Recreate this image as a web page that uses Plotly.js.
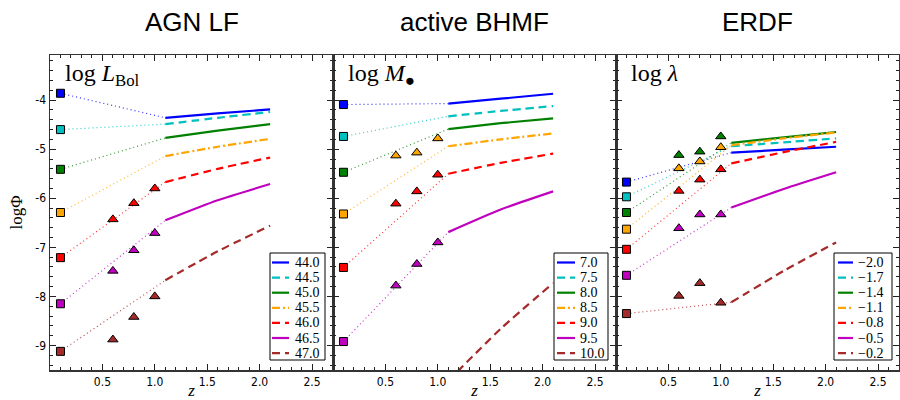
<!DOCTYPE html>
<html>
<head>
<meta charset="utf-8">
<script src="https://cdn.plot.ly/plotly-3.0.1.min.js"></script>
<style>html,body{margin:0;padding:0;background:#fff;}#chart{width:900px;height:400px;}</style>
</head>
<body>
<div id="chart"></div>
<script>
// ---------------- data ----------------
const zSquare = 0.1;
const zTri = [0.6, 0.8, 1.0];
const zLine = [1.1, 1.6, 2.1];

const panelTitles = ['AGN LF', 'active BHMF', 'ERDF'];
const panelLabels = ['log <i>L</i><sub>Bol</sub>', 'log <i>M</i><sub>\u25CF</sub>', 'log <i>\u03BB</i>'];

const legendLF = ['44.0', '44.5', '45.0', '45.5', '46.0', '46.5', '47.0'];
const legendBHMF = ['7.0', '7.5', '8.0', '8.5', '9.0', '9.5', '10.0'];
const legendERDF = ['\u22122.0', '\u22121.7', '\u22121.4', '\u22121.1', '\u22120.8', '\u22120.5', '\u22120.2'];

const seriesColors = ['#0000ff', '#00bfbf', '#008000', '#ffa500', '#ff0000', '#bf00bf', '#a52a2a'];
const seriesDash = ['solid', '8px,5px', 'solid', '8px,3px,2px,3px', '8px,5px', 'solid', '8px,5px'];

// Squares at z = 0.1
const squaresLF   = [-3.86, -4.60, -5.41, -6.29, -7.21, -8.15, -9.12];
const squaresBHMF = [-4.09, -4.74, -5.47, -6.32, -7.41, -8.92, null];
const squaresERDF = [-5.67, -5.97, -6.29, -6.63, -7.04, -7.57, -8.35];

// Triangles at z = 0.6, 0.8, 1.0
const trianglesLF = [null, null, null, null,
  [-6.43, -6.10, -5.80], [-7.48, -7.06, -6.71], [-8.88, -8.42, -8.00]];
const trianglesBHMF = [null, null, null,
  [-5.13, -5.07, -4.78], [-6.11, -5.86, -5.52], [-7.78, -7.34, -6.90], null];
const trianglesERDF = [null, null,
  [-5.12, -5.05, -4.74], [-5.39, -5.25, -4.96], [-5.85, -5.62, -5.41], [-6.61, -6.33, -6.33], [-7.99, -7.73, -8.13]];

// Model curves at z = 1.1, 1.6, 2.1
const linesLF = [
  [-4.36, -4.27, -4.19], [-4.49, -4.36, -4.24], [-4.77, -4.62, -4.49], [-5.14, -4.95, -4.79],
  [-5.67, -5.40, -5.17], [-6.45, -6.04, -5.71], [-7.67, -7.08, -6.56]];
const linesBHMF = [
  [-4.07, -3.97, -3.87], [-4.33, -4.22, -4.12], [-4.59, -4.47, -4.37], [-4.94, -4.80, -4.68],
  [-5.50, -5.28, -5.09], [-6.69, -6.23, -5.86], [-9.72, -8.66, -7.73]];
const linesERDF = [
  [-5.07, -5.01, -4.95], [-4.94, -4.86, -4.78], [-4.87, -4.76, -4.65], [-4.92, -4.78, -4.66],
  [-5.29, -5.06, -4.85], [-6.19, -5.81, -5.47], [-8.12, -7.48, -6.90]];

const xTicks = [0.5, 1.0, 1.5, 2.0, 2.5];
const yTicks = [-9, -8, -7, -6, -5, -4];

// ---------------- build ----------------
const panels = [
  {sq: squaresLF, tri: trianglesLF, lines: linesLF, leg: legendLF},
  {sq: squaresBHMF, tri: trianglesBHMF, lines: linesBHMF, leg: legendBHMF},
  {sq: squaresERDF, tri: trianglesERDF, lines: linesERDF, leg: legendERDF}
];

const traces = [];
panels.forEach((p, pi) => {
  const xa = pi === 0 ? 'x' : 'x' + (pi + 1);
  const ya = pi === 0 ? 'y' : 'y' + (pi + 1);
  for (let i = 0; i < 7; i++) {
    if (p.sq[i] === null) continue;
    traces.push({x: [zSquare, zLine[0]], y: [p.sq[i], p.lines[i][0]], xaxis: xa, yaxis: ya,
      mode: 'lines', line: {color: seriesColors[i], width: 1.2, dash: '1px,3px'},
      opacity: 0.8, showlegend: false, hoverinfo: 'skip'});
  }
  for (let i = 0; i < 7; i++) {
    traces.push({x: zLine, y: p.lines[i], xaxis: xa, yaxis: ya, mode: 'lines',
      line: {color: seriesColors[i], width: 2.2, dash: seriesDash[i], shape: 'spline', smoothing: 0.6},
      name: p.leg[i], showlegend: false});
  }
  for (let i = 0; i < 7; i++) {
    if (!p.tri[i]) continue;
    traces.push({x: zTri, y: p.tri[i], xaxis: xa, yaxis: ya, mode: 'markers',
      marker: {symbol: 'triangle-up', size: 9, color: seriesColors[i], line: {color: '#000', width: 1}},
      showlegend: false, cliponaxis: false});
  }
  for (let i = 0; i < 7; i++) {
    if (p.sq[i] === null) continue;
    traces.push({x: [zSquare], y: [p.sq[i]], xaxis: xa, yaxis: ya, mode: 'markers',
      marker: {symbol: 'square', size: 8, color: seriesColors[i], line: {color: '#000', width: 1}},
      showlegend: false, cliponaxis: false});
  }
});

const W = 900, H = 400, ML = 50, MR = 1, MT = 55, MB = 30;
const PW = W - ML - MR, PH = H - MT - MB;
const panelW = 283;
function px2paperX(px) { return (px - ML) / PW; }
function px2paperY(py) { return 1 - (py - MT) / PH; }

const serif = 'Liberation Serif, DejaVu Serif, serif';
const tickFont = {family: 'DejaVu Sans Condensed, DejaVu Sans, sans-serif', size: 12, color: '#000'};

const layout = {
  width: W, height: H,
  margin: {l: ML, r: MR, t: MT, b: MB},
  paper_bgcolor: '#fff', plot_bgcolor: '#fff',
  showlegend: false,
  annotations: [],
  shapes: []
};

// legend geometry (pixels): box left/right, sample start/end, text start
const legBox = [[270, 325], [554, 608], [834, 892]];
const legSample = [[272, 289], [557, 575], [838, 853]];
const legTextX = [294, 579, 857];
const legTop = 253, legBottom = 360, legRow0 = 262.5, legStep = 15.1;

for (let pi = 0; pi < 3; pi++) {
  const x0 = ML + pi * panelW, x1 = ML + (pi + 1) * panelW;
  const suf = pi === 0 ? '' : String(pi + 1);
  layout['xaxis' + suf] = {
    domain: [px2paperX(x0), px2paperX(x1)], range: [0, 2.7], anchor: 'y' + suf,
    tickvals: xTicks, ticktext: xTicks.map(v => v.toFixed(1)),
    ticks: 'inside', ticklen: 6, tickwidth: 1, tickcolor: '#222',
    minor: {dtick: 0.1, tick0: 0, ticks: 'inside', ticklen: 3, tickwidth: 1, tickcolor: '#222'},
    showline: true, linecolor: '#333', linewidth: 1.5, mirror: 'allticks',
    showgrid: false, zeroline: false, tickfont: tickFont,
    title: {text: '<i>z</i>', font: {family: serif, size: 17, color: '#000'}, standoff: 0}
  };
  const yax = {
    domain: [0, 1], range: [-9.5, -3.08], anchor: 'x' + suf,
    tickvals: yTicks, ticktext: yTicks.map(v => '-' + Math.abs(v)),
    showticklabels: pi === 0,
    ticks: 'inside', ticklen: 6, tickwidth: 1, tickcolor: '#222',
    minor: {dtick: 0.2, tick0: 0, ticks: 'inside', ticklen: 3, tickwidth: 1, tickcolor: '#222'},
    showline: true, linecolor: '#333', linewidth: 1.5, mirror: 'allticks',
    showgrid: false, zeroline: false, tickfont: tickFont
  };
  if (pi === 0) yax.title = {text: 'log\u03A6', font: {family: serif, size: 17, color: '#000'}, standoff: 8};
  layout['yaxis' + suf] = yax;

  // panel title
  layout.annotations.push({
    text: panelTitles[pi], xref: 'paper', yref: 'paper',
    x: px2paperX((x0 + x1) / 2), y: px2paperY(22), xanchor: 'center', yanchor: 'middle',
    showarrow: false, font: {family: 'Liberation Sans, Arial, sans-serif', size: 26, color: '#000'}
  });
  // panel label
  layout.annotations.push({
    text: panelLabels[pi], xref: 'paper', yref: 'paper',
    x: px2paperX(x0 + 13), y: px2paperY(58), xanchor: 'left', yanchor: 'top',
    showarrow: false, font: {family: serif, size: 24, color: '#000'}
  });

  // legend box
  layout.shapes.push({type: 'rect', xref: 'paper', yref: 'paper',
    x0: px2paperX(legBox[pi][0]), x1: px2paperX(legBox[pi][1]),
    y0: px2paperY(legBottom), y1: px2paperY(legTop),
    fillcolor: '#fff', line: {color: '#000', width: 1}, layer: 'above'});
  const labels = panels[pi].leg;
  for (let i = 0; i < 7; i++) {
    const yy = legRow0 + i * legStep;
    layout.shapes.push({type: 'line', xref: 'paper', yref: 'paper',
      x0: px2paperX(legSample[pi][0]), x1: px2paperX(legSample[pi][1]),
      y0: px2paperY(yy), y1: px2paperY(yy),
      line: {color: seriesColors[i], width: 2.2, dash: seriesDash[i]}, layer: 'above'});
    layout.annotations.push({text: labels[i], xref: 'paper', yref: 'paper',
      x: px2paperX(legTextX[pi]), y: px2paperY(yy), xanchor: 'left', yanchor: 'middle',
      showarrow: false, borderpad: 0, font: {family: serif, size: 14, color: '#000'}});
  }
}

Plotly.newPlot('chart', traces, layout, {displayModeBar: false, staticPlot: true});
</script>
</body>
</html>
